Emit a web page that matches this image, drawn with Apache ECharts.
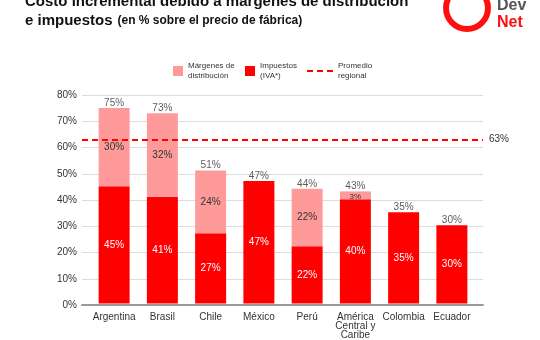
<!DOCTYPE html>
<html><head><meta charset="utf-8">
<script src="https://cdn.jsdelivr.net/npm/echarts@6/dist/echarts.min.js"></script>
<style>html,body{margin:0;padding:0;background:#fff}#c{width:540px;height:340px}</style>
</head><body><div id="c"></div>
<script>
const categories = ['Argentina','Brasil','Chile','México','Perú','América\nCentral y\nCaribe','Colombia','Ecuador'];
const impuestos = [45, 41, 27, 47, 22, 40, 35, 30];
const margenes = [30, 32, 24, 0, 22, 3, 0, 0];
const totales = [75, 73, 51, 47, 44, 43, 35, 30];
const promedio = 63;
const yTicks = [0, 80, 10];

const FONT = 'Liberation Sans';
const chart = echarts.init(document.getElementById('c'));
const margenData = margenes.map(v => {
  if (v === 0) return {value: v, label: {show: false}};
  if (v < 8) return {value: v, label: {position: 'insideTop', distance: 1, fontSize: 8}};
  return v;
});
chart.setOption({
  animation: false,
  textStyle: {fontFamily: FONT},
  title: {
    left: 20, top: -13,
    text: '{a|Costo incremental debido a márgenes de distribución}\n{a|e impuestos} {b|(en % sobre el precio de fábrica)}',
    textStyle: {rich: {
      a: {fontFamily: FONT, fontWeight: 'bold', fontSize: 15, color: '#111', lineHeight: 19},
      b: {fontFamily: FONT, fontWeight: 'bold', fontSize: 12, color: '#111', lineHeight: 19}
    }}
  },
  graphic: [
    {type: 'ring', shape: {cx: 467, cy: 8, r: 24, r0: 18}, style: {fill: '#ff1010'}},
    {type: 'text', left: 497, top: -2, style: {text: 'Dev', font: 'bold 16px ' + FONT, fill: '#555'}},
    {type: 'text', left: 497, top: 15, style: {text: 'Net', font: 'bold 16px ' + FONT, fill: '#ff1010'}}
  ],
  legend: [
    {left: 168, top: 56, data: ['Márgenes de distribución'], itemWidth: 10, itemHeight: 10, icon: 'rect',
     formatter: () => 'Márgenes de\ndistribución', textStyle: {fontSize: 8, lineHeight: 10, color: '#333'}},
    {left: 240, top: 56, data: ['Impuestos (IVA*)'], itemWidth: 10, itemHeight: 10, icon: 'rect',
     formatter: () => 'Impuestos\n(IVA*)', textStyle: {fontSize: 8, lineHeight: 10, color: '#333'}},
    {left: 302, top: 56, data: ['Promedio regional'], itemWidth: 26, itemHeight: 2,
     icon: 'path://M0,0h6v2h-6z M10,0h6v2h-6z M20,0h6v2h-6z',
     formatter: () => 'Promedio\nregional', textStyle: {fontSize: 8, lineHeight: 10, color: '#333'}}
  ],
  grid: [
    {left: 82, right: 57, top: 95, bottom: 35},
    {left: 90, right: 64, top: 95, bottom: 35}
  ],
  xAxis: [
    {gridIndex: 0, type: 'category', data: [''], axisTick: {show: false}, axisLabel: {show: false},
     axisLine: {lineStyle: {color: '#999', width: 2}}},
    {gridIndex: 1, type: 'category', data: categories, axisTick: {show: false}, axisLine: {show: false},
     axisLabel: {color: '#333', fontSize: 10, margin: 9, lineHeight: 9, interval: 0}}
  ],
  yAxis: [
    {gridIndex: 0, type: 'value', min: yTicks[0], max: yTicks[1], interval: yTicks[2],
     axisLabel: {formatter: '{value}%', color: '#333', fontSize: 10, margin: 5},
     splitLine: {lineStyle: {color: '#ddd', width: 1}}, axisLine: {show: false}, axisTick: {show: false}},
    {gridIndex: 1, type: 'value', min: yTicks[0], max: yTicks[1], interval: yTicks[2], show: false}
  ],
  series: [
    {name: 'Impuestos (IVA*)', type: 'bar', xAxisIndex: 1, yAxisIndex: 1, stack: 's', barWidth: 31,
     data: impuestos, itemStyle: {color: '#ff0000'},
     label: {show: true, position: 'inside', color: '#fff', fontSize: 10, formatter: '{c}%'}},
    {name: 'Márgenes de distribución', type: 'bar', xAxisIndex: 1, yAxisIndex: 1, stack: 's', barWidth: 31,
     data: margenData, itemStyle: {color: '#ff9a9a'},
     label: {show: true, position: 'inside', color: '#333', fontSize: 10, formatter: '{c}%'}},
    {name: 'Totales', type: 'scatter', xAxisIndex: 1, yAxisIndex: 1, symbolSize: 0, data: totales,
     label: {show: true, position: 'top', distance: 0, color: '#333', fontSize: 10, formatter: '{c}%'}},
    {name: 'Promedio regional', type: 'line', xAxisIndex: 0, yAxisIndex: 0, data: [null],
     itemStyle: {color: '#ff0000'}, lineStyle: {color: '#ff0000', type: 'dashed'}, symbol: 'none',
     markLine: {silent: true, symbol: 'none', data: [{yAxis: promedio}],
       lineStyle: {color: '#ff0000', type: [6, 4], width: 2},
       label: {show: true, position: 'end', formatter: promedio + '%', color: '#333', fontSize: 10, distance: 6}}}
  ]
});
</script></body></html>
